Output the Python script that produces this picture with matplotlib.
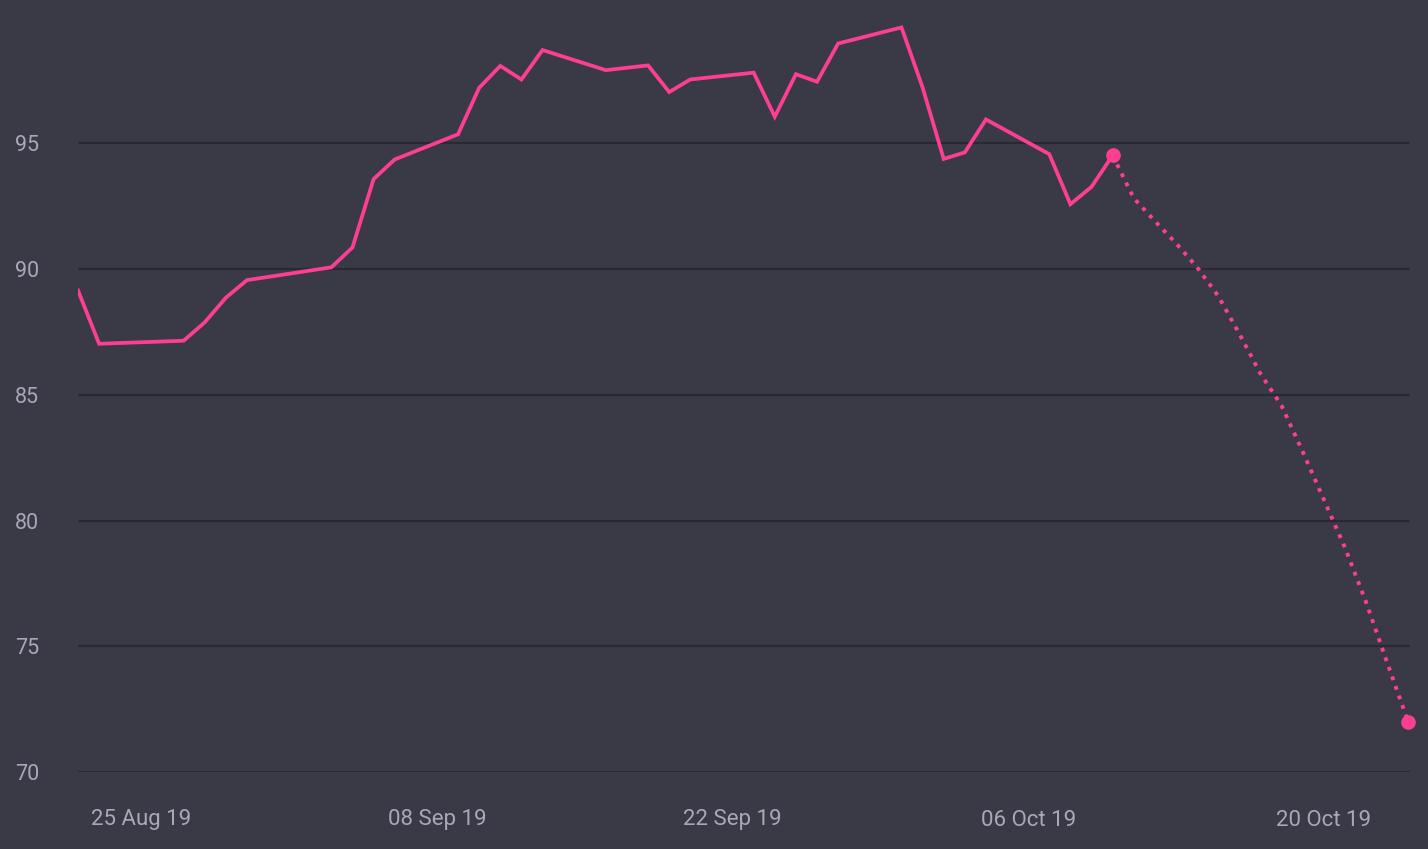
import pandas as pd
import numpy as np
import matplotlib
matplotlib.use('Agg')
import matplotlib.pyplot as plt
import matplotlib.dates as mdates

# observed closing values (business days)
hist_dates = ['2019-08-22', '2019-08-23', '2019-08-27', '2019-08-28', '2019-08-29',
              '2019-08-30', '2019-09-03', '2019-09-04', '2019-09-05', '2019-09-06',
              '2019-09-09', '2019-09-10', '2019-09-11', '2019-09-12', '2019-09-13',
              '2019-09-16', '2019-09-18', '2019-09-19', '2019-09-20', '2019-09-23',
              '2019-09-24', '2019-09-25', '2019-09-26', '2019-09-27', '2019-09-30',
              '2019-10-01', '2019-10-02', '2019-10-03', '2019-10-04', '2019-10-07',
              '2019-10-08', '2019-10-09', '2019-10-10']
hist_values = [89.15, 87.03, 87.15, 87.88, 88.86,
               89.56, 90.07, 90.86, 93.58, 94.36,
               95.36, 97.21, 98.08, 97.54, 98.71,
               97.91, 98.10, 97.04, 97.54, 97.81,
               96.06, 97.75, 97.45, 98.97, 99.61,
               97.22, 94.38, 94.64, 95.95, 94.57,
               92.58, 93.27, 94.52]

# projected values (daily)
proj_dates = ['2019-10-10', '2019-10-11', '2019-10-12', '2019-10-13', '2019-10-14',
              '2019-10-15', '2019-10-16', '2019-10-17', '2019-10-18', '2019-10-19',
              '2019-10-20', '2019-10-21', '2019-10-22', '2019-10-23', '2019-10-24']
proj_values = [94.52, 92.82, 91.91, 91.03, 90.07,
               88.93, 87.43, 85.84, 84.57, 82.74,
               80.84, 78.93, 76.76, 74.35, 71.99]

tick_dates = ['2019-08-25', '2019-09-08', '2019-09-22', '2019-10-06', '2019-10-20']
y_ticks = [70, 75, 80, 85, 90, 95]

bg = '#3a3946'
pink = '#fc3f93'
txt = '#a9a7b8'
grid_c = '#2a2932'

plt.rcParams['font.family'] = ['Roboto', 'DejaVu Sans']

hist = pd.Series(hist_values, index=pd.to_datetime(hist_dates))
proj = pd.Series(proj_values, index=pd.to_datetime(proj_dates))

fig = plt.figure(figsize=(14.28, 8.49), dpi=100, facecolor=bg)
ax = fig.add_axes([78/1428, (849-772)/849, (1410-78)/1428, 772/849])
ax.set_facecolor(bg)

ax.plot(proj.index, proj.values, color=pink, lw=2.8, linestyle=(0, (1, 1.6)),
        dash_capstyle='butt', zorder=3)
ax.plot(hist.index, hist.values, color=pink, lw=2.7, solid_joinstyle='miter', zorder=4)
ax.plot([proj.index[0], proj.index[-1]], [proj.values[0], proj.values[-1]],
        'o', color=pink, ms=9.5, clip_on=False, zorder=5)

ax.set_xlim(pd.Timestamp('2019-08-22'), pd.Timestamp('2019-10-24 02:00'))
ax.set_ylim(70, 100.7)

ax.set_yticks(y_ticks)
ax.set_xticks(pd.to_datetime(tick_dates))
ax.xaxis.set_major_formatter(mdates.DateFormatter('%d %b %y'))
ax.tick_params(axis='x', length=0, pad=27, labelsize=16, labelcolor=txt)
ax.tick_params(axis='y', length=0, pad=28, labelsize=15.5, labelcolor=txt)

ax.grid(axis='y', color=grid_c, lw=1.6)
ax.grid(axis='x', visible=False)
ax.set_axisbelow(True)
for s in ax.spines.values():
    s.set_visible(False)

fig.savefig('out.png', dpi=100, facecolor=bg)
